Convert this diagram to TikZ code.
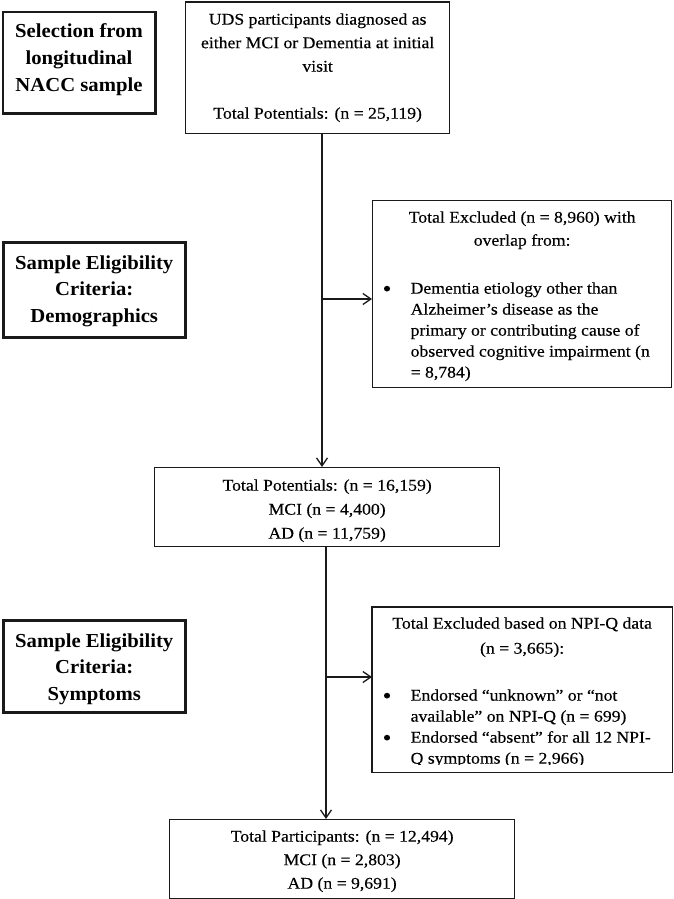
\documentclass[tikz,border=0pt]{standalone}
\usepackage{fontspec}
\setmainfont{Liberation Serif}[FakeStretch=1.085,FakeBold=0.25]
\newfontfamily\hdrfont{Liberation Serif}[FakeStretch=1.045]
\usetikzlibrary{arrows.meta}
\definecolor{linec}{HTML}{1A1A1A}
\newcommand\regtext{\fontsize{16.3pt}{23.5pt}\selectfont}
\newcommand\hdrtext{\hdrfont\bfseries\fontsize{19.8pt}{26.5pt}\selectfont}
\newcommand\firstl{\rule{0pt}{14pt}}
\newcommand\firsth{\rule{0pt}{16pt}}
\newcommand\bigbul{\raisebox{-2.6pt}{\fontsize{23pt}{23pt}\selectfont •}}
\newcommand\bul{\noindent\hangindent=38pt\hangafter=1\hspace*{10pt}\makebox[28pt][l]{\bigbul}}
\tikzset{
  box/.style={draw=linec, line width=1.3pt, inner sep=0pt, anchor=north west},
  boxline/.style={draw=linec, line width=1.3pt},
  sidebox/.style={draw=linec, line width=2.5pt, inner sep=0pt, anchor=north west},
  arr/.style={draw=linec, line width=1.3pt, -{Straight Barb[length=8pt,width=11pt]}},
}
\begin{document}
\begin{tikzpicture}[x=1pt,y=-1pt]
\useasboundingbox (0,0) rectangle (673,899);
\fill[white] (0,0) rectangle (673,899);

% left stage labels
\node[sidebox] (s1) at (1.5,11) {\parbox[c][101pt][t]{152.5pt}{\hdrtext\centering\baselineskip=27pt\vspace*{9pt}\firsth Selection from\\longitudinal\\NACC sample\par}};
\node[sidebox] (s2) at (2,241) {\parbox[c][95pt][t]{182pt}{\hdrtext\centering\vspace*{11pt}\firsth Sample Eligibility\\Criteria:\\Demographics\par}};
\node[sidebox] (s3) at (2,619) {\parbox[c][92pt][t]{182pt}{\hdrtext\centering\vspace*{11pt}\firsth Sample Eligibility\\Criteria:\\Symptoms\par}};

% main flow boxes
\node[box] (top) at (185,1.5) {\parbox[c][131.5pt][t]{264pt}{\regtext\centering\vspace*{8.5pt}\firstl UDS participants diagnosed as\\either MCI or Dementia at initial\\visit\\[23.5pt]Total Potentials: (n = 25,119)\par}};

\node[box] (mid) at (154,467) {\parbox[c][79pt][t]{345pt}{\regtext\centering\baselineskip=24pt\vspace*{9pt}\firstl Total Potentials: (n = 16,159)\\MCI (n = 4,400)\\AD (n = 11,759)\par}};

\node[box] (fin) at (169,819) {\parbox[c][79pt][t]{345pt}{\regtext\centering\vspace*{8pt}\firstl Total Participants: (n = 12,494)\\MCI (n = 2,803)\\AD (n = 9,691)\par}};

% exclusion boxes
\node[box] (ex1) at (372,200) {\parbox[c][187pt][t]{299pt}{\regtext\vspace*{8pt}%
{\centering\baselineskip=23pt\firstl Total Excluded (n = 8,960) with\\overlap from:\par}%
\baselineskip=21pt\vspace{27pt}%
\bul Dementia etiology other than\\Alzheimer’s disease as the\\primary or contributing cause of\\observed cognitive impairment (n\\= 8,784)\par}};

\begin{scope}
\clip (0,0) rectangle (673,764.5);
\node[box,draw=none] (ex2) at (372,607) {\parbox[c][164pt][t]{299pt}{\regtext\vspace*{7pt}%
{\centering\baselineskip=25pt\firstl Total Excluded based on NPI-Q data\\(n = 3,665):\par}%
\baselineskip=21pt\vspace{26pt}%
\bul Endorsed “unknown” or “not\\available” on NPI-Q (n = 699)\par
\bul Endorsed “absent” for all 12 NPI-\\Q symptoms (n = 2,966)\par}};
\end{scope}
\draw[boxline] (ex2.north west) rectangle (ex2.south east);

% connectors
\coordinate (j1) at (322,299);
\coordinate (j2) at (326,677);
\draw[arr] (top.south -| j1) -- (mid.north -| j1);
\draw[arr] (j1) -- (j1 -| ex1.west);
\draw[arr] (mid.south -| j2) -- (fin.north -| j2);
\draw[arr] (j2) -- (j2 -| ex2.west);
\end{tikzpicture}
\end{document}
